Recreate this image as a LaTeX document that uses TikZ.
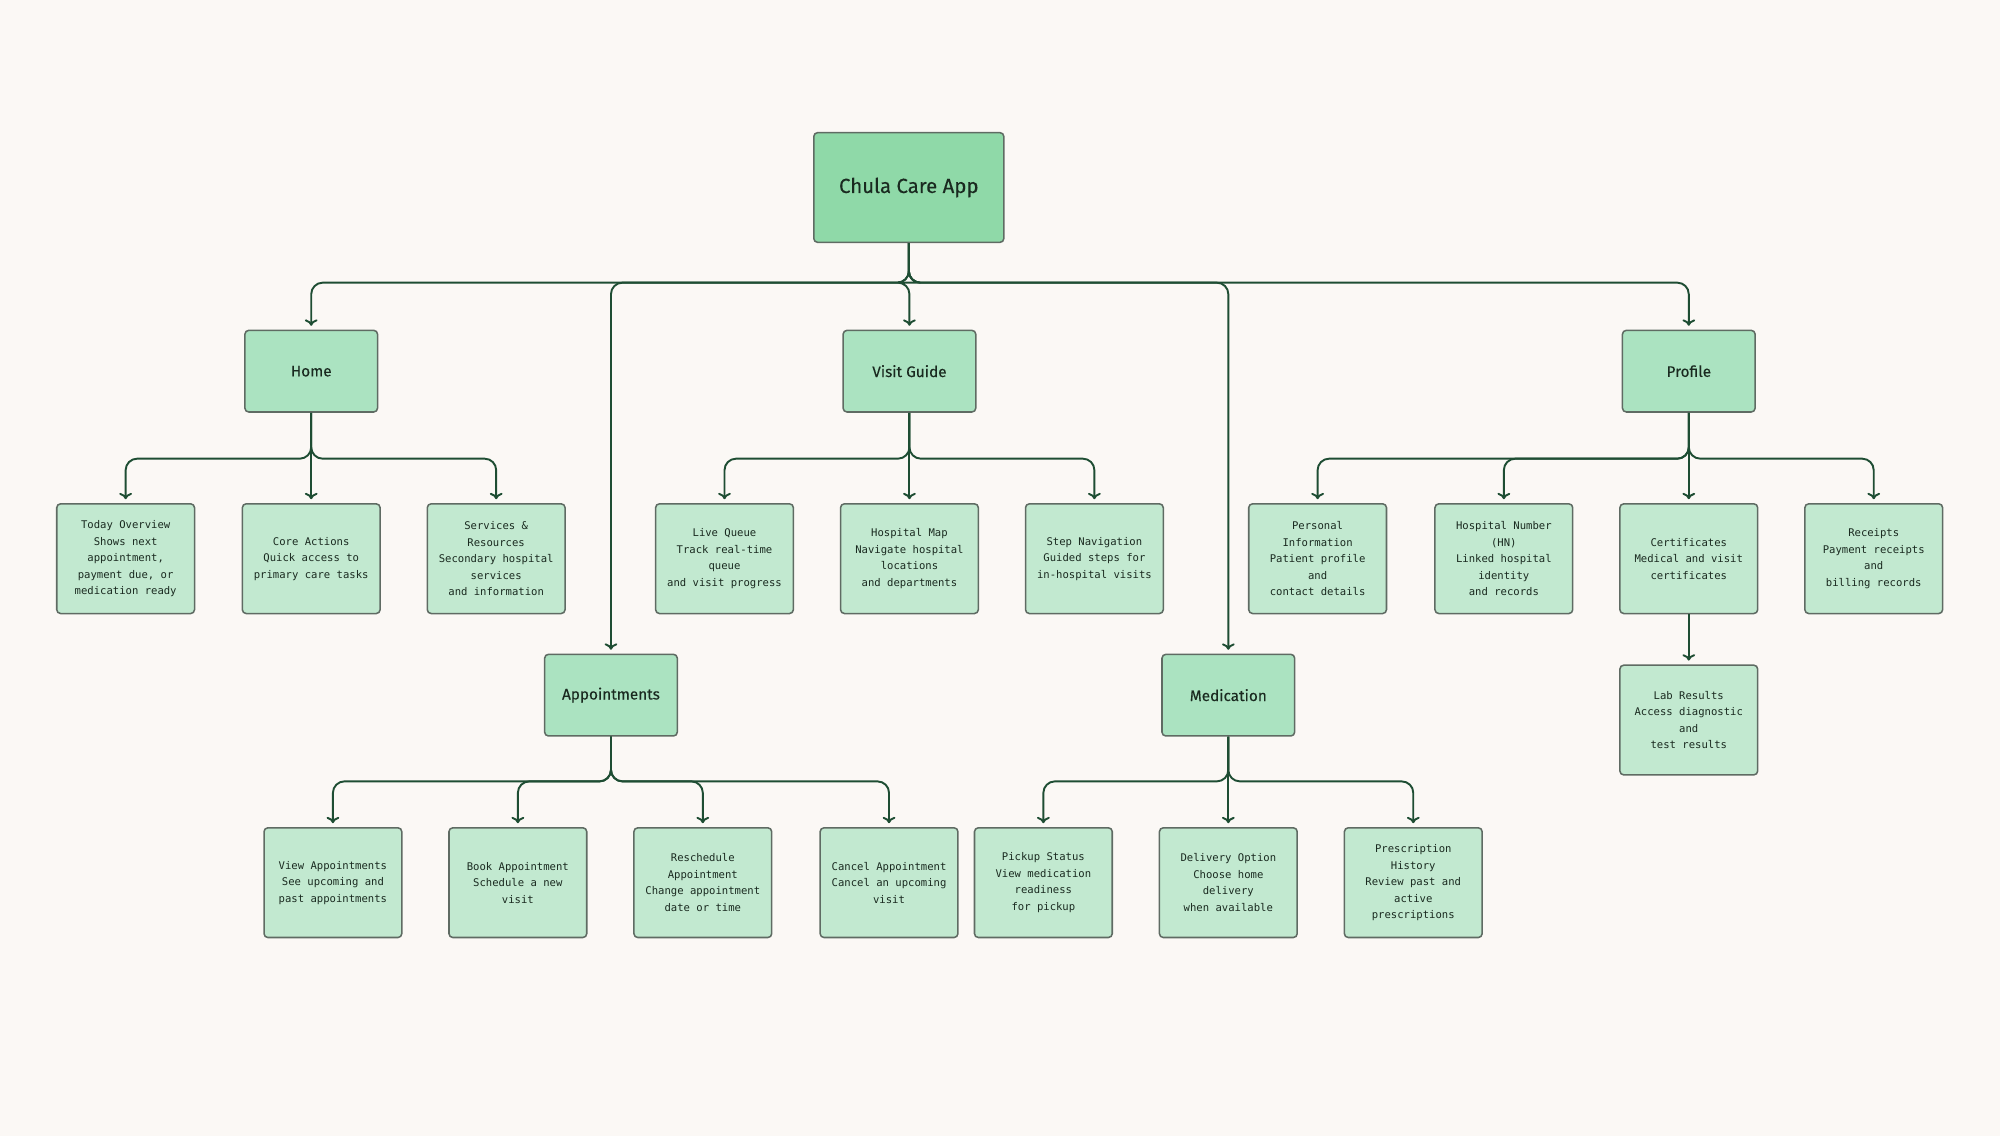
\documentclass[tikz,border=0pt]{standalone}
\usepackage{fontspec}
\usetikzlibrary{arrows.meta}
\setmainfont{Fira Sans}
\newfontfamily\monof{DejaVu Sans Mono}
\definecolor{bgc}{HTML}{FBF8F5}
\definecolor{rootc}{HTML}{8FD9A8}
\definecolor{midc}{HTML}{ABE3C1}
\definecolor{leafc}{HTML}{C2E9D0}
\definecolor{bordc}{HTML}{5F6B63}
\definecolor{linec}{HTML}{1E4D33}
\definecolor{txtc}{HTML}{1A2A20}
\begin{document}
\begin{tikzpicture}[x=1pt,y=-1pt,
  boxbase/.style={draw=bordc,text=txtc,line width=1.2pt,rounded corners=3pt,align=center,inner sep=0pt},
  rootbox/.style={boxbase,fill=rootc,minimum width=149pt,minimum height=86pt,font=\fontsize{16}{19}\selectfont\addfontfeature{FakeBold=0.3}},
  midbox/.style={boxbase,fill=midc,minimum width=104pt,minimum height=64pt,font=\fontsize{12}{14}\selectfont\addfontfeature{FakeBold=0.2}},
  leafbox/.style={boxbase,fill=leafc,minimum width=108pt,minimum height=86pt,font=\monof\fontsize{8.3}{13}\selectfont},
  conn/.style={draw=linec,line width=1.5pt,rounded corners=9pt,-{To[length=5pt,width=10pt]},shorten >=3pt}]
\fill[bgc] (0,0) rectangle (1568,891);
\useasboundingbox (0,0) rectangle (1568,891);
\node[rootbox] (root) at (712.5,147) {Chula Care App};
\node[midbox] (home) at (244,291) {Home};
\node[midbox] (visit) at (713,291) {Visit Guide};
\node[midbox] (prof) at (1324,291) {Profile};
\node[midbox] (appt) at (479,545) {Appointments};
\node[midbox] (med) at (963,545) {Medication};
\node[leafbox] (h1) at (98.5,438) {Today Overview\\Shows next\\appointment,\\payment due, or\\medication ready};
\node[leafbox] (h2) at (244,438) {Core Actions\\Quick access to\\primary care tasks};
\node[leafbox] (h3) at (389,438) {Services \&\\Resources\\Secondary hospital\\services\\and information};
\node[leafbox] (v1) at (568,438) {Live Queue\\Track real-time\\queue\\and visit progress};
\node[leafbox] (v2) at (713,438) {Hospital Map\\Navigate hospital\\locations\\and departments};
\node[leafbox] (v3) at (858,438) {Step Navigation\\Guided steps for\\in-hospital visits};
\node[leafbox] (p1) at (1033,438) {Personal\\Information\\Patient profile\\and\\contact details};
\node[leafbox] (p2) at (1179,438) {Hospital Number\\(HN)\\Linked hospital\\identity\\and records};
\node[leafbox] (p3) at (1324,438) {Certificates\\Medical and visit\\certificates};
\node[leafbox] (p4) at (1469,438) {Receipts\\Payment receipts\\and\\billing records};
\node[leafbox] (lab) at (1324,564.5) {Lab Results\\Access diagnostic\\and\\test results};
\node[leafbox] (a1) at (261,692) {View Appointments\\See upcoming and\\past appointments};
\node[leafbox] (a2) at (406,692) {Book Appointment\\Schedule a new\\visit};
\node[leafbox] (a3) at (551,692) {Reschedule\\Appointment\\Change appointment\\date or time};
\node[leafbox] (a4) at (697,692) {Cancel Appointment\\Cancel an upcoming\\visit};
\node[leafbox] (m1) at (818,692) {Pickup Status\\View medication\\readiness\\for pickup};
\node[leafbox] (m2) at (963,692) {Delivery Option\\Choose home\\delivery\\when available};
\node[leafbox] (m3) at (1108,692) {Prescription\\History\\Review past and\\active\\prescriptions};
\foreach \t in {home,visit,prof,appt,med}
  \draw[conn] (root.south) -- ++(0,31) -| (\t.north);
\foreach \t in {h1,h2,h3} \draw[conn] (home.south) -- ++(0,36) -| (\t.north);
\foreach \t in {v1,v2,v3} \draw[conn] (visit.south) -- ++(0,36) -| (\t.north);
\foreach \t in {p1,p2,p3,p4} \draw[conn] (prof.south) -- ++(0,36) -| (\t.north);
\foreach \t in {a1,a2,a3,a4} \draw[conn] (appt.south) -- ++(0,35) -| (\t.north);
\foreach \t in {m1,m2,m3} \draw[conn] (med.south) -- ++(0,35) -| (\t.north);
\draw[conn] (p3.south) -- (lab.north);
\end{tikzpicture}
\end{document}
